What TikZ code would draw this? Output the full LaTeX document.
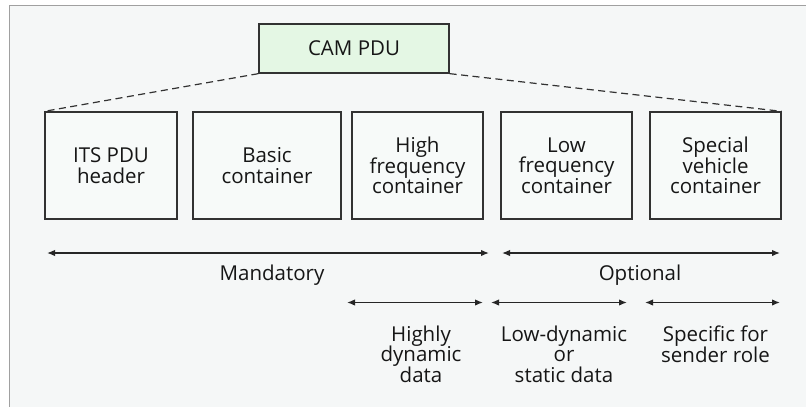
\documentclass[tikz,border=0pt]{standalone}
\usepackage{fontspec}
\setmainfont{Open Sans}
\usetikzlibrary{arrows.meta}
\definecolor{bgcol}{RGB}{245,247,247}
\definecolor{boxfill}{RGB}{247,250,249}
\definecolor{camfill}{RGB}{228,247,228}
\definecolor{linecol}{RGB}{50,50,50}
\definecolor{txtcol}{RGB}{22,22,22}
\definecolor{framecol}{RGB}{160,160,160}
\begin{document}
\begin{tikzpicture}[x=1pt,y=-1pt,
  every node/.style={text=txtcol, font=\fontsize{20.5}{20.7}\selectfont},
  boxstyle/.style={draw=linecol, line width=1.3pt, fill=boxfill, align=center, inner sep=0pt, minimum height=107pt},
  camstyle/.style={draw=linecol, line width=1.3pt, fill=camfill, inner sep=0pt, minimum width=190pt, minimum height=49pt},
  dashline/.style={draw=linecol, line width=1.2pt, dash pattern=on 7pt off 4.5pt},
  spanarrow/.style={draw=black!85, line width=1.4pt, {Latex[length=8pt,width=6.5pt]}-{Latex[length=8pt,width=6.5pt]}},
  labeltext/.style={align=center, inner sep=0pt}
]
\useasboundingbox (0,0) rectangle (806,407);
\fill[white] (0,0) rectangle (806,407);
\fill[bgcol] (9,5) rectangle (806,407);
\draw[framecol, line width=1pt] (9,407) -- (9,5) -- (806,5);

\node[camstyle] (cam) at (354,48.5) {CAM PDU};

\node[boxstyle, minimum width=132pt] (its) at (111,165.5) {ITS PDU\\header};
\node[boxstyle, minimum width=148pt] (basic) at (267,165.5) {Basic\\container};
\node[boxstyle, minimum width=131pt] (high) at (417.5,165.5) {High\\frequency\\container};
\node[boxstyle, minimum width=131pt] (low) at (566.5,165.5) {Low\\frequency\\container};
\node[boxstyle, minimum width=131pt] (special) at (715.5,165.5) {Special\\vehicle\\container};

\draw[dashline] (cam.south west) -- (its.north west);
\draw[dashline] (cam.south east) -- (special.north east);

\coordinate (mandA) at (47,253);
\coordinate (mandB) at (489,253);
\coordinate (optA) at (502,253);
\coordinate (optB) at (780,253);
\draw[spanarrow] (mandA) -- (mandB);
\draw[spanarrow] (optA) -- (optB);
\node[labeltext, anchor=base] (mand) at (272,280) {Mandatory};
\node[labeltext, anchor=base] (opt) at (640,280) {Optional};

\coordinate (hdA) at (347,302.5);
\coordinate (hdB) at (483,302.5);
\coordinate (ldA) at (491,302.5);
\coordinate (ldB) at (627,302.5);
\coordinate (spA) at (645,302.5);
\coordinate (spB) at (780,302.5);
\draw[spanarrow] (hdA) -- (hdB);
\draw[spanarrow] (ldA) -- (ldB);
\draw[spanarrow] (spA) -- (spB);

\node[labeltext, anchor=north] (hdtext) at (421,325.5) {Highly\\dynamic\\data};
\node[labeltext, anchor=north] (ldtext) at (564,325.5) {Low-dynamic\\or\\static data};
\node[labeltext, anchor=north] (sptext) at (715.5,325.5) {Specific for\\sender role};
\end{tikzpicture}
\end{document}
